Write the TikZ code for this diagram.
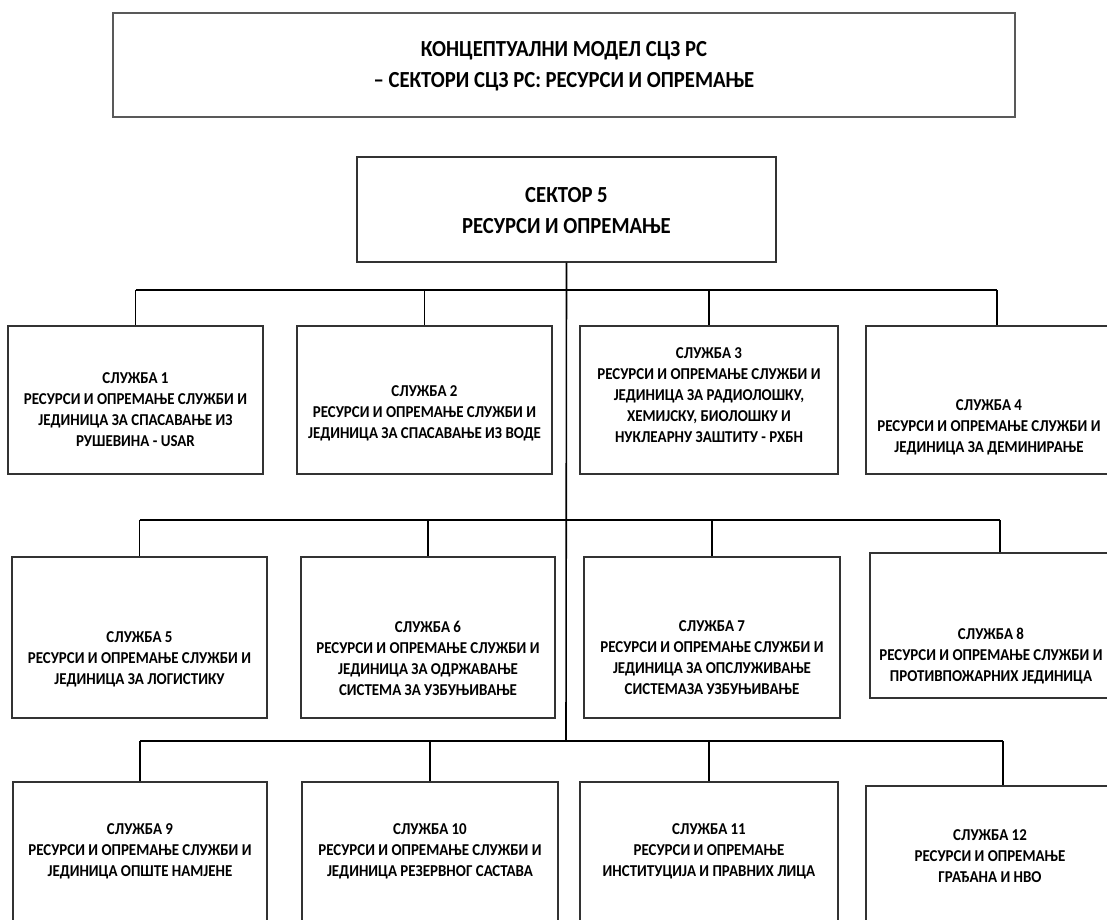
\documentclass[tikz,border=0pt]{standalone}
\usepackage{fontspec}
\setmainfont{Carlito}
% slightly condensed bold face for the box labels
\newfontfamily\narrowface{Carlito}[FakeStretch=0.9]
\begin{document}
\begin{tikzpicture}[x=1pt,y=-1pt,
  frame/.style={draw=black!80, line width=1.1pt, rectangle, inner sep=0pt, fill=white},
  unittext/.style={font=\narrowface\bfseries\fontsize{16.6}{21}\selectfont, align=center, inner sep=0pt},
  headtext/.style={font=\narrowface\bfseries\fontsize{23}{31}\selectfont, align=center, inner sep=0pt},
  bus/.style={line width=2.2pt, black},
  drop/.style={line width=1.6pt, black}]
\useasboundingbox (0,0) rectangle (1107,919);
\clip (0,0) rectangle (1107,919);

% heading
\node[frame, draw=black!65, minimum width=902pt, minimum height=104pt] (title) at (564,65) {};
\node[headtext] (titlet) at (564,66) {КОНЦЕПТУАЛНИ МОДЕЛ СЦЗ РС\\– СЕКТОРИ СЦЗ РС: РЕСУРСИ И ОПРЕМАЊЕ};

% sector
\node[frame, minimum width=419pt, minimum height=105pt] (sector) at (566.5,209.5) {};
\node[headtext] (sectort) at (566.5,210.5) {СЕКТОР 5\\РЕСУРСИ И ОПРЕМАЊЕ};

% bus levels
\coordinate (j1) at (566,290);
\coordinate (j2) at (566,520);
\coordinate (j3) at (566,741);

% row 1
\node[frame, minimum width=255pt, minimum height=148pt] (s1) at (135.5,400) {};
\node[frame, minimum width=255pt, minimum height=148pt] (s2) at (424.5,400) {};
\node[frame, minimum width=258pt, minimum height=148pt] (s3) at (709,400) {};
\node[frame, minimum width=262pt, minimum height=148pt] (s4) at (997,400) {};
\node[unittext] (s1t) at (s1 |- 0,410) {СЛУЖБА 1\\РЕСУРСИ И ОПРЕМАЊЕ СЛУЖБИ И\\ЈЕДИНИЦА ЗА СПАСАВАЊЕ ИЗ\\РУШЕВИНА - USAR};
\node[unittext] (s2t) at (s2 |- 0,413.5) {СЛУЖБА 2\\РЕСУРСИ И ОПРЕМАЊЕ СЛУЖБИ И\\ЈЕДИНИЦА ЗА СПАСАВАЊЕ ИЗ ВОДЕ};
\node[unittext] (s3t) at (s3 |- 0,395) {СЛУЖБА 3\\РЕСУРСИ И ОПРЕМАЊЕ СЛУЖБИ И\\ЈЕДИНИЦА ЗА РАДИОЛОШКУ,\\ХЕМИЈСКУ, БИОЛОШКУ И\\НУКЛЕАРНУ ЗАШТИТУ - РХБН};
\node[unittext] (s4t) at (989,427) {СЛУЖБА 4\\РЕСУРСИ И ОПРЕМАЊЕ СЛУЖБИ И\\ЈЕДИНИЦА ЗА ДЕМИНИРАЊЕ};

% row 2
\node[frame, minimum width=255pt, minimum height=161pt] (s5) at (139.5,637.5) {};
\node[frame, minimum width=254pt, minimum height=161pt] (s6) at (428,637.5) {};
\node[frame, minimum width=256pt, minimum height=161pt] (s7) at (712,637.5) {};
\node[frame, minimum width=260pt, minimum height=145pt] (s8) at (1000,625.5) {};
\node[unittext] (s5t) at (s5 |- 0,659) {СЛУЖБА 5\\РЕСУРСИ И ОПРЕМАЊЕ СЛУЖБИ И\\ЈЕДИНИЦА ЗА ЛОГИСТИКУ};
\node[unittext] (s6t) at (s6 |- 0,658) {СЛУЖБА 6\\РЕСУРСИ И ОПРЕМАЊЕ СЛУЖБИ И\\ЈЕДИНИЦА ЗА ОДРЖАВАЊЕ\\СИСТЕМА ЗА УЗБУЊИВАЊЕ};
\node[unittext] (s7t) at (s7 |- 0,658) {СЛУЖБА 7\\РЕСУРСИ И ОПРЕМАЊЕ СЛУЖБИ И\\ЈЕДИНИЦА ЗА ОПСЛУЖИВАЊЕ\\СИСТЕМАЗА УЗБУЊИВАЊЕ};
\node[unittext] (s8t) at (991,656) {СЛУЖБА 8\\РЕСУРСИ И ОПРЕМАЊЕ СЛУЖБИ И\\ПРОТИВПОЖАРНИХ ЈЕДИНИЦА};

% row 3
\node[frame, minimum width=254pt, minimum height=180pt] (s9) at (140,872) {};
\node[frame, minimum width=256pt, minimum height=180pt] (s10) at (430,872) {};
\node[frame, minimum width=258pt, minimum height=180pt] (s11) at (709,872) {};
\node[frame, minimum width=274pt, minimum height=176pt] (s12) at (1003,874) {};
\node[unittext] (s9t) at (s9 |- 0,851) {СЛУЖБА 9\\РЕСУРСИ И ОПРЕМАЊЕ СЛУЖБИ И\\ЈЕДИНИЦА ОПШТЕ НАМЈЕНЕ};
\node[unittext] (s10t) at (s10 |- 0,851) {СЛУЖБА 10\\РЕСУРСИ И ОПРЕМАЊЕ СЛУЖБИ И\\ЈЕДИНИЦА РЕЗЕРВНОГ САСТАВА};
\node[unittext] (s11t) at (s11 |- 0,851) {СЛУЖБА 11\\РЕСУРСИ И ОПРЕМАЊЕ\\ИНСТИТУЦИЈА И ПРАВНИХ ЛИЦА};
\node[unittext] (s12t) at (990,856) {СЛУЖБА 12\\РЕСУРСИ И ОПРЕМАЊЕ\\ГРАЂАНА И НВО};

% trunk
\draw[drop] (sector.south) -- (j3);

% buses
\draw[bus] (s1.north |- j1) -- (s4.north |- j1);
\draw[bus] (s5.north |- j2) -- (s8.north |- j2);
\draw[bus] (s9.north |- j3) -- (s12.north |- j3);

% drops to each unit
\foreach \u/\j in {s1/j1,s2/j1,s3/j1,s4/j1,s5/j2,s6/j2,s7/j2,s8/j2,s9/j3,s10/j3,s11/j3,s12/j3}
  \draw[drop] (\u.north |- \j) -- (\u.north);
\end{tikzpicture}
\end{document}
